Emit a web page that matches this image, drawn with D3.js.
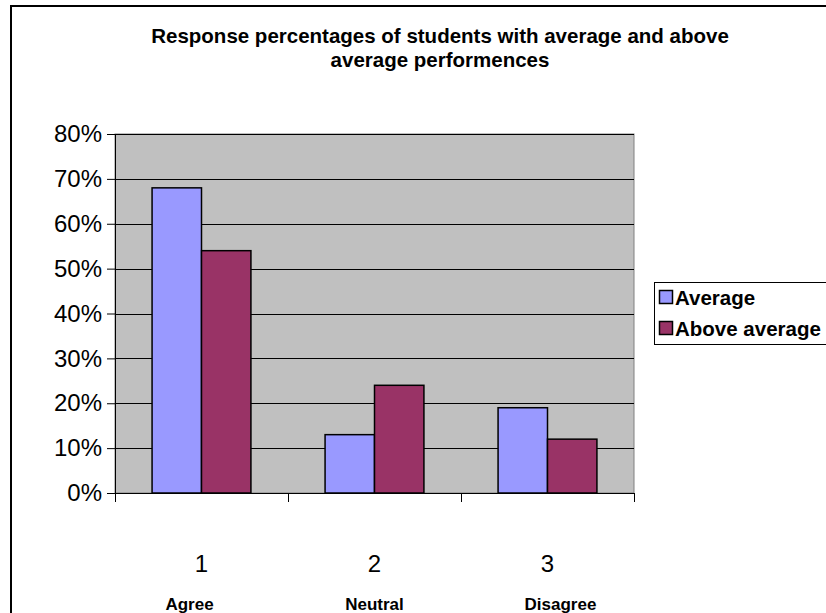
<!DOCTYPE html>
<html>
<head>
<meta charset="utf-8">
<script src="https://cdn.jsdelivr.net/npm/d3@7"></script>
<style>
  html, body { margin: 0; padding: 0; background: #fff; }
  svg { display: block; }
</style>
</head>
<body>
<svg id="chart" width="826" height="613"></svg>
<script>
const categories = ["1", "2", "3"];
const categoryNames = ["Agree", "Neutral", "Disagree"];
const seriesNames = ["Average", "Above average"];
const averageValues = [0.68, 0.13, 0.19];
const aboveAverageValues = [0.54, 0.24, 0.12];
const yTicks = [0, 0.1, 0.2, 0.3, 0.4, 0.5, 0.6, 0.7, 0.8];
const titleLines = ["Response percentages of students with average and above", "average performences"];
const colors = ["#9999FF", "#993366"];

const svg = d3.select("#chart");
const plot = { left: 115, right: 634, top: 134, bottom: 493 };
const FONT = "Arial, 'Liberation Sans', sans-serif";

// outer chart border (extends beyond right/bottom)
svg.append("rect").attr("x", 11).attr("y", 6).attr("width", 900).attr("height", 700)
  .attr("fill", "#fff").attr("stroke", "#000").attr("stroke-width", 2);

// title
const title = svg.append("text").attr("text-anchor", "middle")
  .attr("font-family", FONT).attr("font-weight", "bold")
  .attr("font-size", 20.5).attr("fill", "#000");
titleLines.forEach((t, i) => {
  title.append("tspan").attr("x", 440).attr("y", 43 + i * 24).text(t);
});

const x = d3.scaleBand().domain(categories).range([plot.left, plot.right]).paddingInner(0).paddingOuter(0);
const barW = x.bandwidth() / 3.5;
const x1 = d3.scaleBand().domain(seriesNames).range([0, barW * 2]);
const y = d3.scaleLinear().domain([0, 0.8]).range([plot.bottom, plot.top]);

// plot area
svg.append("rect").attr("x", plot.left).attr("y", plot.top)
  .attr("width", plot.right - plot.left).attr("height", plot.bottom - plot.top)
  .attr("fill", "#C0C0C0").attr("stroke", "#808080").attr("stroke-width", 1);

// gridlines
svg.append("g").selectAll("line").data(yTicks.slice(1)).join("line")
  .attr("x1", plot.left).attr("x2", plot.right)
  .attr("y1", d => Math.round(y(d)) + 0.5).attr("y2", d => Math.round(y(d)) + 0.5)
  .attr("stroke", "#000").attr("stroke-width", 1);

// bars
const data = categories.map((c, i) => ({ c, vals: [averageValues[i], aboveAverageValues[i]] }));
const groups = svg.append("g").selectAll("g").data(data).join("g")
  .attr("transform", d => `translate(${x(d.c) + x.bandwidth() / 2 - barW},0)`);
groups.selectAll("rect").data(d => d.vals.map((v, j) => ({ v, s: seriesNames[j], j }))).join("rect")
  .attr("x", d => x1(d.s))
  .attr("y", d => y(d.v))
  .attr("width", x1.bandwidth())
  .attr("height", d => y(0) - y(d.v))
  .attr("fill", d => colors[d.j])
  .attr("stroke", "#000").attr("stroke-width", 1.5);

// y axis
const yAxis = d3.axisLeft(y).tickValues(yTicks).tickFormat(d3.format(".0%")).tickSize(8).tickPadding(5);
const gy = svg.append("g").attr("transform", `translate(${plot.left},0)`).call(yAxis);
gy.selectAll("text").attr("font-family", FONT).attr("font-size", 24).attr("fill", "#000");
gy.selectAll("line, path").attr("stroke", "#000");
gy.select(".domain").attr("d", `M0.5,${plot.top}V${plot.bottom}`);

// x axis
const xAxis = d3.axisBottom(x).tickSize(0).tickPadding(62);
const gx = svg.append("g").attr("transform", `translate(0,${plot.bottom})`).call(xAxis);
gx.selectAll("text").attr("font-family", FONT).attr("font-size", 24).attr("fill", "#000");
gx.select(".domain").attr("d", `M${plot.left},0.5H${plot.right}`).attr("stroke", "#000");
// category separator ticks
const bounds = [plot.left, ...categories.map(c => x(c) + x.bandwidth())];
gx.selectAll(".sep").data(bounds).join("line").attr("class", "sep")
  .attr("x1", d => Math.round(d) + 0.5).attr("x2", d => Math.round(d) + 0.5)
  .attr("y1", 0).attr("y2", 9).attr("stroke", "#000");

// category names
const nameOffsets = [-12, 0, 13];
svg.append("g").selectAll("text").data(categoryNames).join("text")
  .attr("x", (d, i) => x(categories[i]) + x.bandwidth() / 2 + nameOffsets[i])
  .attr("y", 610)
  .attr("text-anchor", "middle")
  .attr("font-family", FONT).attr("font-weight", "bold")
  .attr("font-size", 17).attr("fill", "#000")
  .text(d => d);

// legend
const lg = svg.append("g");
lg.append("rect").attr("x", 654.5).attr("y", 282.5).attr("width", 200).attr("height", 62)
  .attr("fill", "#fff").attr("stroke", "#000").attr("stroke-width", 1);
seriesNames.forEach((s, i) => {
  const yy = 298 + i * 31;
  lg.append("rect").attr("x", 659.5).attr("y", yy - 7.5).attr("width", 13).attr("height", 13)
    .attr("fill", colors[i]).attr("stroke", "#000").attr("stroke-width", 1.5);
  lg.append("text").attr("x", 675).attr("y", yy + 7)
    .attr("font-family", FONT).attr("font-weight", "bold")
    .attr("font-size", 20.5).attr("fill", "#000").text(s);
});
</script>
</body>
</html>
